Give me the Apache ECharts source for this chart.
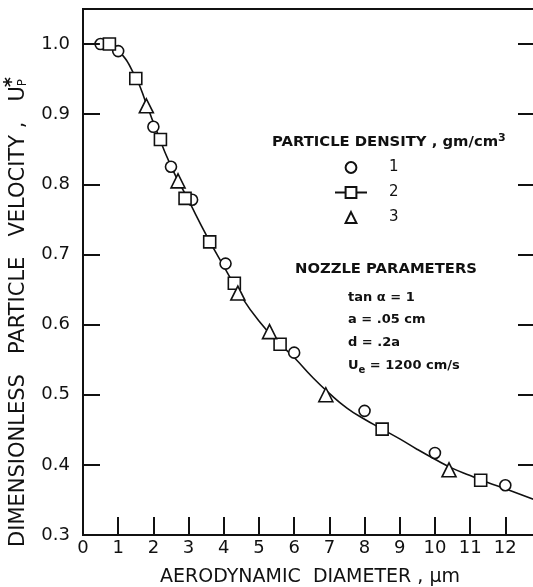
<!DOCTYPE html>
<html>
<head>
<meta charset="UTF-8">
<title>Particle velocity vs aerodynamic diameter</title>
<script src="https://cdn.jsdelivr.net/npm/echarts@6/dist/echarts.min.js"></script>
<style>
  html, body { margin: 0; padding: 0; background: #fff; }
  #main { width: 533px; height: 587px; }
</style>
</head>
<body>
<div id="main"></div>
<script>
// density 1 (circles)
var circleX = [0.5, 1.0, 2.0, 2.5, 3.1, 4.05, 6.0, 8.0, 10.0, 12.0];
var circleY = [1.0, 0.99, 0.882, 0.825, 0.778, 0.687, 0.56, 0.477, 0.417, 0.371];
// density 2 (squares)
var squareX = [0.75, 1.5, 2.2, 2.9, 3.6, 4.3, 5.6, 8.5, 11.3];
var squareY = [1.0, 0.951, 0.864, 0.78, 0.718, 0.659, 0.572, 0.451, 0.378];
// density 3 (triangles)
var triX = [1.8, 2.7, 4.4, 5.3, 6.9, 10.4];
var triY = [0.912, 0.805, 0.645, 0.59, 0.50, 0.393];
// faired curve
var curveX = [0.6, 1.0, 1.5, 1.8, 2.0, 2.5, 3.0, 3.5, 4.0, 4.5, 5.0, 5.5, 6.0, 6.5, 7.0, 7.5, 8.0, 8.5, 9.0, 9.5, 10.0, 10.5, 11.0, 11.5, 12.0, 12.9];
var curveY = [1.0, 0.991, 0.952, 0.915, 0.888, 0.826, 0.777, 0.728, 0.683, 0.640, 0.605, 0.577, 0.553, 0.526, 0.502, 0.481, 0.465, 0.451, 0.437, 0.422, 0.408, 0.395, 0.385, 0.375, 0.366, 0.349];

var xTicks = [0, 1, 2, 3, 4, 5, 6, 7, 8, 9, 10, 11, 12];
var yTicks = [0.3, 0.4, 0.5, 0.6, 0.7, 0.8, 0.9, 1.0];

function pairs(xs, ys) {
    return xs.map(function (x, i) { return [x, ys[i]]; });
}

var FONT = 'DejaVu Sans';
var INK = '#111';
var markStyle = { color: '#fff', borderColor: INK, borderWidth: 1.6 };
var tickStyle = { color: INK, width: 2 };
var LEFT_TICK = 0.48;   // inward tick length on the left frame, in x units (~17px)

// inward ticks on the left frame, one per y tick above the x axis
var leftTicks = yTicks.slice(1).map(function (y) {
    return [{ coord: [0, y] }, { coord: [LEFT_TICK, y] }];
});

var chart = echarts.init(document.getElementById('main'));

chart.setOption({
    backgroundColor: '#fff',
    animation: false,
    grid: {
        left: 83, right: -4, top: 9, bottom: 52, outerBoundsMode: 'none', containLabel: false,
        show: true, borderColor: INK, borderWidth: 2, backgroundColor: 'transparent'
    },
    xAxis: {
        type: 'value', min: 0, max: 12.9, interval: 1,
        name: 'AERODYNAMIC  DIAMETER , \u03bcm',
        nameLocation: 'middle', nameGap: 33,
        nameTextStyle: { fontFamily: FONT, fontSize: 19, color: INK },
        axisLine: { show: true, onZero: false, lineStyle: tickStyle },
        axisTick: { show: true, inside: true, length: 18, lineStyle: tickStyle },
        axisLabel: {
            fontFamily: FONT, fontSize: 18, color: INK, margin: 4, showMaxLabel: false,
            formatter: function (v) { return xTicks.indexOf(v) >= 0 ? String(v) : ''; }
        },
        splitLine: { show: false }
    },
    yAxis: [{
        type: 'value', position: 'left', min: 0.3, max: 1.05, interval: 0.1,
        name: 'DIMENSIONLESS   PARTICLE   VELOCITY ,   U{sub|P}{sup|*}',
        nameLocation: 'middle', nameGap: 49, nameRotate: 90,
        nameTextStyle: {
            fontFamily: FONT, fontSize: 21, color: INK, padding: [0, 80, 0, 0],
            rich: {
                sub: { fontFamily: FONT, fontSize: 12, color: INK, padding: [9, 0, 0, 0] },
                sup: { fontFamily: FONT, fontSize: 19, color: INK, fontWeight: 'bold', padding: [0, 0, 12, -8] }
            }
        },
        axisLine: { show: true, onZero: false, lineStyle: tickStyle },
        axisTick: { show: true, inside: true, length: 17, lineStyle: tickStyle },
        axisLabel: {
            fontFamily: FONT, fontSize: 18, color: INK, margin: 13, showMaxLabel: false,
            formatter: function (v) {
                var t = v.toFixed(1);
                return yTicks.indexOf(+t) >= 0 ? t : '';
            }
        },
        splitLine: { show: false }
    }, {
        // right-hand frame: inward ticks only
        type: 'value', position: 'right', min: 0.3, max: 1.05, interval: 0.1,
        axisLine: { show: true, onZero: false, lineStyle: tickStyle },
        axisTick: { show: true, inside: true, length: 19, lineStyle: tickStyle },
        axisLabel: { show: false }, splitLine: { show: false }
    }],
    legend: {
        orient: 'vertical', left: 334, top: 160, padding: 0, itemGap: 10,
        itemWidth: 32, itemHeight: 13.5,
        textStyle: { fontFamily: FONT, fontSize: 15, color: INK, padding: [0, 0, 0, 17] },
        data: [
            { name: '1', lineStyle: { opacity: 0 } },
            { name: '2', lineStyle: { color: INK, width: 2, opacity: 1 } },
            { name: '3', lineStyle: { opacity: 0 } }
        ]
    },
    graphic: [{
        type: 'text', left: 272, top: 133,
        style: {
            text: 'PARTICLE DENSITY , gm/cm{sup|3}',
            fontFamily: FONT, fontSize: 14.8, fontWeight: 'bold', fill: INK,
            rich: { sup: { fontFamily: FONT, fontSize: 11, fontWeight: 'bold', fill: INK, padding: [0, 0, 8, 0] } }
        }
    }, {
        type: 'text', left: 295, top: 262,
        style: { text: 'NOZZLE PARAMETERS', fontFamily: FONT, fontSize: 14.8, fontWeight: 'bold', fill: INK }
    }, {
        type: 'text', left: 348, top: 286,
        style: {
            text: 'tan \u03b1 = 1\na = .05 cm\nd = .2a\nU{sub|e} = 1200 cm/s',
            fontFamily: FONT, fontSize: 13, fontWeight: 'bold', fill: INK, lineHeight: 22.7,
            rich: { sub: { fontFamily: FONT, fontSize: 10, fontWeight: 'bold', fill: INK, padding: [9, 0, 0, 0] } }
        }
    }],
    series: [{
        name: 'curve', type: 'line', data: pairs(curveX, curveY),
        smooth: true, showSymbol: false, silent: true,
        lineStyle: { color: INK, width: 1.6 }, z: 1,
        markLine: {
            silent: true, animation: false, symbol: ['none', 'none'],
            label: { show: false },
            lineStyle: { color: INK, width: 2, type: 'solid' },
            emphasis: { disabled: true },
            data: leftTicks
        }
    }, {
        name: '1', type: 'line', data: pairs(circleX, circleY),
        symbol: 'circle', symbolSize: 11, showAllSymbol: true,
        lineStyle: { opacity: 0 }, itemStyle: markStyle, z: 3
    }, {
        name: '2', type: 'line', data: pairs(squareX, squareY),
        symbol: 'rect', symbolSize: 12, showAllSymbol: true,
        lineStyle: { opacity: 0 }, itemStyle: markStyle, z: 3
    }, {
        name: '3', type: 'line', data: pairs(triX, triY),
        symbol: 'triangle', symbolSize: 14, showAllSymbol: true,
        lineStyle: { opacity: 0 }, itemStyle: markStyle, z: 3
    }]
});
</script>
</body>
</html>
